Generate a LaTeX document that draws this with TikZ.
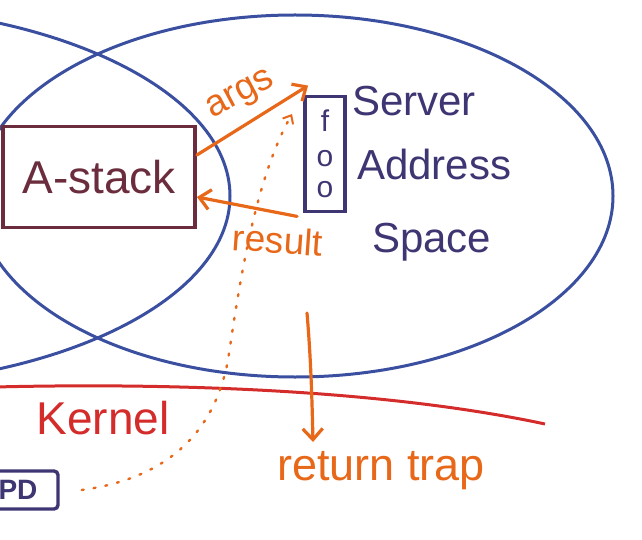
\documentclass[tikz,border=0pt]{standalone}
\usepackage{fontspec}
\setmainfont{Liberation Sans}
\usetikzlibrary{arrows.meta,calc}
\definecolor{ellblue}{HTML}{3B4FA0}
\definecolor{maroon}{HTML}{6B2D3D}
\definecolor{indigo}{HTML}{3D3672}
\definecolor{orng}{HTML}{E8681A}
\definecolor{kred}{HTML}{D42B2B}
\tikzset{
  ell/.style={draw=ellblue, line width=3pt},
  boxA/.style={draw=maroon, line width=3.8pt, text=maroon, minimum width=192pt, minimum height=101pt, inner sep=0pt, font=\fontsize{46}{50}\selectfont},
  boxF/.style={draw=indigo, line width=3.8pt, text=indigo, minimum width=40pt, minimum height=115pt, inner sep=0pt, align=center, font=\fontsize{30}{31}\selectfont},
  txt/.style={text=indigo, inner sep=0pt, anchor=west, font=\fontsize{42}{46}\selectfont},
  orlab/.style={text=orng, inner sep=0pt, font=\fontsize{37}{40}\selectfont},
  orarrow/.style={draw=orng, line width=3.2pt, line cap=round, -{Straight Barb[length=11pt,width=20pt,line width=3.2pt]}},
  dotarrow/.style={draw=orng, line width=2.4pt, line cap=round, dash pattern=on 2pt off 10pt, -{Straight Barb[length=7pt,width=12pt,line width=2pt]}},
}
\begin{document}
\begin{tikzpicture}[x=1pt,y=-1pt]
\useasboundingbox (0,0) rectangle (642,540);
\begin{scope}
\clip (0,0) rectangle (642,540);
% ellipses
\draw[ell] (-165,196) ellipse [x radius=395, y radius=190];
\draw[ell] (295,196) ellipse [x radius=318, y radius=181];
% kernel line
\coordinate (kl) at (-5,387);
\coordinate (kr) at (545,424);
\draw[draw=kred, line width=3pt] (kl) .. controls (200,382) and (400,393) .. (kr);
% PD box
\node[draw=indigo, line width=3.4pt, rounded corners=4pt, minimum width=80pt, minimum height=38pt, text=indigo, font=\fontsize{28}{30}\selectfont\bfseries, inner sep=0pt] (pd) at (18,490) {PD};
\end{scope}
% nodes
\node[boxA] (astack) at (99,177) {A-stack};
\node[boxF] (foo) at (325,154) {f\\[4pt]o\\o};
\node[txt] (server) at (352,101) {Server};
\node[txt] (address) at (357,164) {Address};
\node[txt] (space) at (372,242) {Space};
\node[orlab, rotate=28] (args) at (241,96) {args};
\node[orlab, rotate=-4] (result) at (278,240) {result};
\node[text=kred, inner sep=0pt, font=\fontsize{46}{50}\selectfont] (kernel) at (103,418) {Kernel};
\node[orlab, font=\fontsize{45}{48}\selectfont] (rtrap) at (381,471) {return trap};
% arrows
\draw[orarrow] ([yshift=22pt]astack.east) -- ([xshift=5pt,yshift=9pt]foo.north west);
\draw[orarrow] ([xshift=-6pt,yshift=-3pt]foo.south west) -- ([yshift=-20pt]astack.east);
\coordinate (dotend) at (292,114);
\draw[dotarrow] ([xshift=22pt]pd.east) .. controls (170,478) and (215,430) .. (228,360) .. controls (240,280) and (255,180) .. (dotend);
\coordinate (rs) at (307,313);
\coordinate (re) at (313,442);
\draw[orarrow] (rs) .. controls (311,360) and (312,400) .. (re);
\end{tikzpicture}
\end{document}
